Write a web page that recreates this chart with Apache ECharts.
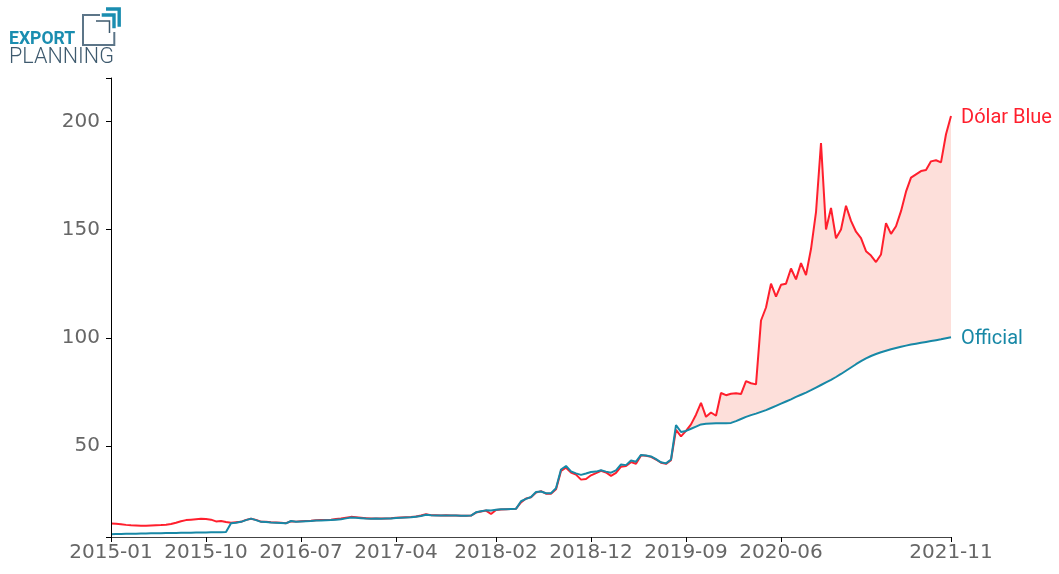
<!DOCTYPE html>
<html>
<head>
<meta charset="utf-8">
<title>Dólar Blue vs Official</title>
<script src="https://cdn.jsdelivr.net/npm/echarts@6/dist/echarts.min.js"></script>
<style>html, body { margin: 0; padding: 0; background: #fff; }</style>
</head>
<body>
<div id="main" style="width:1059px;height:574px;"></div>
<script type="text/javascript">
// Data: samples along the trading-day axis, Jan 2015 .. Nov 2021
var blue = [
  14.2, 14.1, 13.9, 13.6, 13.4, 13.3, 13.2, 13.2, 13.3, 13.4,
  13.5, 13.7, 14.0, 14.6, 15.3, 15.8, 16.0, 16.2, 16.4, 16.3,
  16.0, 15.2, 15.4, 14.9, 14.6, 14.8, 15.0, 15.9, 16.4, 15.9,
  15.1, 15.0, 14.8, 14.7, 14.6, 14.4, 15.3, 15.1, 15.3, 15.4,
  15.5, 15.7, 15.8, 15.9, 16.0, 16.3, 16.5, 16.9, 17.3, 17.1,
  16.9, 16.7, 16.5, 16.6, 16.5, 16.6, 16.7, 16.9, 17.0, 17.1,
  17.2, 17.5, 17.9, 18.5, 18.1, 18.0, 17.9, 18.0, 17.9, 17.9,
  17.8, 17.8, 17.9, 19.3, 19.8, 20.2, 18.6, 20.5, 20.7, 20.8,
  20.9, 21.1, 24.0, 25.8, 26.3, 28.5, 29.2, 28.0, 28.0, 30.0,
  38.5, 40.0, 37.8, 36.8, 34.5, 34.8, 36.5, 37.5, 38.6, 37.8,
  36.2, 37.6, 40.5, 40.8, 42.6, 41.8, 45.7, 45.5, 45.0, 43.8,
  42.3, 41.8, 43.5, 57.5, 54.5, 57.0, 60.0, 64.5, 70.0, 63.5,
  65.5, 64.0, 74.5, 73.5, 74.2, 74.4, 74.0, 80.0, 79.0, 78.5,
  108.0, 114.0, 125.0, 119.0, 124.5, 125.0, 132.0, 127.0, 134.5, 129.0,
  141.0, 158.0, 190.0, 150.0, 160.0, 146.0, 150.0, 161.0, 154.0, 149.0,
  146.0, 140.0, 138.0, 135.0, 138.5, 153.0, 148.0, 151.5, 158.5, 167.5,
  174.0, 175.5, 177.0, 177.5, 181.5, 182.0, 181.0, 194.0, 202.5
];
var official = [
  9.3, 9.35, 9.4, 9.45, 9.5, 9.55, 9.6, 9.65, 9.7, 9.7,
  9.75, 9.8, 9.85, 9.9, 9.95, 10.0, 10.0, 10.05, 10.1, 10.1,
  10.15, 10.2, 10.25, 10.3, 14.3, 14.6, 15.0, 15.8, 16.5, 15.8,
  15.0, 14.9, 14.7, 14.6, 14.5, 14.3, 15.4, 15.0, 15.2, 15.3,
  15.4, 15.6, 15.6, 15.7, 15.8, 16.0, 16.2, 16.6, 17.0, 16.9,
  16.7, 16.5, 16.4, 16.5, 16.4, 16.5, 16.6, 16.8, 16.9, 17.0,
  17.1, 17.4, 17.7, 18.3, 18.0, 17.9, 17.9, 17.9, 17.9, 17.9,
  17.8, 17.8, 17.9, 19.4, 19.9, 20.3, 20.2, 20.6, 20.8, 20.8,
  20.9, 21.0, 24.5, 25.6, 26.5, 28.8, 29.0, 28.2, 28.2, 30.5,
  39.2, 40.8, 38.3, 37.4, 36.7, 37.3, 38.0, 38.2, 38.8, 38.2,
  37.7, 38.8, 41.5, 41.2, 43.3, 42.8, 45.9, 45.6, 45.2, 44.0,
  42.5, 42.0, 43.8, 59.7, 56.5, 57.0, 58.0, 59.0, 60.0, 60.3,
  60.4, 60.5, 60.5, 60.5, 60.7, 61.5, 62.5, 63.5, 64.3, 65.0,
  65.8, 66.6, 67.6, 68.6, 69.6, 70.6, 71.6, 72.7, 73.7, 74.7,
  75.8, 77.0, 78.2, 79.4, 80.6, 81.9, 83.3, 84.8, 86.3, 87.8,
  89.2, 90.5, 91.6, 92.5, 93.3, 94.0, 94.7, 95.3, 95.9, 96.4,
  96.9, 97.3, 97.7, 98.1, 98.5, 98.9, 99.3, 99.8, 100.3
];
var tickIndex = [0, 19, 38, 57, 77, 96, 115, 134, 168];
var tickLabels = ['2015-01', '2015-10', '2016-07', '2017-04', '2018-02', '2018-12', '2019-09', '2020-06', '2021-11'];
var yLabels = [50, 100, 150, 200];
var gapStart = 115; // shading starts at 2019-09

var red = '#ff1f2d';
var teal = '#1788a6';
var pink = '#fddfda';

var myChart = echarts.init(document.getElementById('main'));

var categories = blue.map(function (v, i) { return String(i); });
var gap = blue.map(function (v, i) {
  return i >= gapStart ? Math.max(0, v - official[i]) : null;
});
function isTick(index) { return tickIndex.indexOf(index) !== -1; }

var option = {
  backgroundColor: '#fff',
  animation: false,
  grid: { left: 111, right: 108, top: 78, bottom: 37 },
  xAxis: {
    type: 'category',
    boundaryGap: false,
    data: categories,
    z: 10,
    axisLine: { lineStyle: { color: '#444', width: 1 } },
    axisTick: { interval: function (i) { return isTick(i); }, length: 5, lineStyle: { color: '#000' } },
    axisLabel: {
      interval: function (i) { return isTick(i); },
      formatter: function (v, i) { return tickLabels[tickIndex.indexOf(i)]; },
      color: '#666',
      fontFamily: 'DejaVu Sans',
      fontSize: 20,
      margin: 6
    },
    splitLine: { show: false }
  },
  yAxis: {
    type: 'value',
    min: 8,
    max: 220,
    z: 10,
    axisLine: { show: true, lineStyle: { color: '#000', width: 1 } },
    axisTick: { show: true, length: 5, customValues: [8].concat(yLabels, [220]), lineStyle: { color: '#000' } },
    axisLabel: {
      customValues: yLabels,
      color: '#666',
      fontFamily: 'DejaVu Sans',
      fontSize: 20,
      margin: 11
    },
    splitLine: { show: false }
  },
  series: [{
    name: 'Official',
    type: 'line',
    stack: 'gap',
    data: official,
    z: 4,
    symbol: 'none',
    lineStyle: { color: teal, width: 2 },
    endLabel: {
      show: true,
      formatter: 'Official',
      color: teal,
      fontFamily: 'Roboto',
      fontSize: 20,
      distance: 10,
      offset: [0, 2]
    }
  }, {
    name: 'Gap',
    type: 'line',
    stack: 'gap',
    data: gap,
    z: 1,
    symbol: 'none',
    silent: true,
    lineStyle: { width: 0, opacity: 0 },
    areaStyle: { color: pink, opacity: 1 }
  }, {
    name: 'Dólar Blue',
    type: 'line',
    data: blue,
    z: 3,
    symbol: 'none',
    lineStyle: { color: red, width: 2 },
    endLabel: {
      show: true,
      formatter: 'Dólar Blue',
      color: red,
      fontFamily: 'Roboto',
      fontSize: 20,
      distance: 10,
      offset: [0, 2]
    }
  }],
  // logo
  graphic: [{
    type: 'text', x: 9, y: 39.5,
    style: { text: 'EXPORT', fill: '#1a8db0', font: 'bold 17.6px Roboto', verticalAlign: 'middle' }
  }, {
    type: 'text', x: 9, y: 58,
    style: { text: 'PLANNING', fill: '#3e5a6e', font: '300 21.6px Roboto', verticalAlign: 'middle' }
  }, {
    type: 'polyline',
    shape: { points: [[100, 15], [83, 15], [83, 45], [114.3, 45], [114.3, 32]] },
    style: { stroke: '#5c7588', lineWidth: 2, fill: null }
  }, {
    type: 'polyline',
    shape: { points: [[96, 21], [109.5, 21], [109.5, 33]] },
    style: { stroke: '#3e5a6e', lineWidth: 1.5, fill: null }
  }, {
    type: 'polyline',
    shape: { points: [[106, 9], [119.2, 9], [119.2, 26.7]] },
    style: { stroke: '#1a8db0', lineWidth: 3.4, fill: null }
  }, {
    type: 'polyline',
    shape: { points: [[101.7, 15], [114, 15], [114, 28.3]] },
    style: { stroke: '#1a8db0', lineWidth: 3.4, fill: null }
  }]
};

myChart.setOption(option);
</script>
</body>
</html>
